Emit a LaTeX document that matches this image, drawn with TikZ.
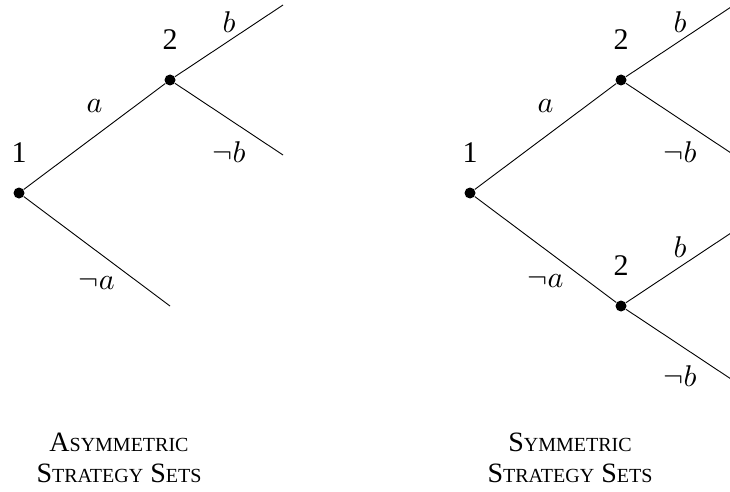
\documentclass[tikz,border=0pt]{standalone}
\usepackage{fontspec}
\setmainfont{Liberation Serif}
\usetikzlibrary{positioning}
\DeclareFontShape{OML}{cmm}{m}{it}{<->cmmi10}{}
\DeclareFontShape{OMS}{cmsy}{m}{n}{<->cmsy10}{}

\newcommand{\fakesc}[1]{{\fontsize{20}{31}\selectfont #1}}

\begin{document}
\begin{tikzpicture}[x=1pt, y=1pt, line width=0.9pt,
    grow'=right,
    level 1/.style={sibling distance=226pt, level distance=151pt},
    level 2/.style={sibling distance=150pt, level distance=113pt},
    every node/.style={font=\fontsize{30}{31}\selectfont},
    dot/.style={circle, fill, inner sep=0pt, minimum size=11pt},
    player/.style={label={[inner sep=0pt, label distance=24pt]above:#1}},
    lbl/.style={inner sep=0pt, yshift=#1},
    caption/.style={align=center, font=\fontsize{28}{31}\selectfont}
]
\useasboundingbox (0,0) rectangle (730,-492);
\clip (0,0) rectangle (730,-492);

% asymmetric game
\node[dot, player=1] (p1) at (19,-193) {}
    child {node[dot, player=2] (p2) {}
        child {coordinate (b1) edge from parent node[lbl=19pt] {$b$}}
        child {coordinate (nb1) edge from parent node[lbl=-33pt] {$\neg b$}}
        edge from parent node[lbl=30pt] {$a$}}
    child {coordinate (na1) edge from parent node[lbl=-32pt] {$\neg a$}};

% symmetric game
\node[dot, player=1] (q1) at (470,-193) {}
    child {node[dot, player=2] (q2) {}
        child {coordinate (b2) edge from parent node[lbl=19pt] {$b$}}
        child {coordinate (nb2) edge from parent node[lbl=-33pt] {$\neg b$}}
        edge from parent node[lbl=30pt] {$a$}}
    child {node[dot, player=2] (q3) {}
        child {coordinate (b3) edge from parent node[lbl=20pt] {$b$}}
        child {coordinate (nb3) edge from parent node[lbl=-31pt] {$\neg b$}}
        edge from parent node[lbl=-32pt] {$\neg a$}};

\node[caption] (capl) at (119,-458) {A\fakesc{SYMMETRIC}\\S\fakesc{TRATEGY} S\fakesc{ETS}};
\node[caption] (capr) at (570,-458) {S\fakesc{YMMETRIC}\\S\fakesc{TRATEGY} S\fakesc{ETS}};
\end{tikzpicture}
\end{document}
